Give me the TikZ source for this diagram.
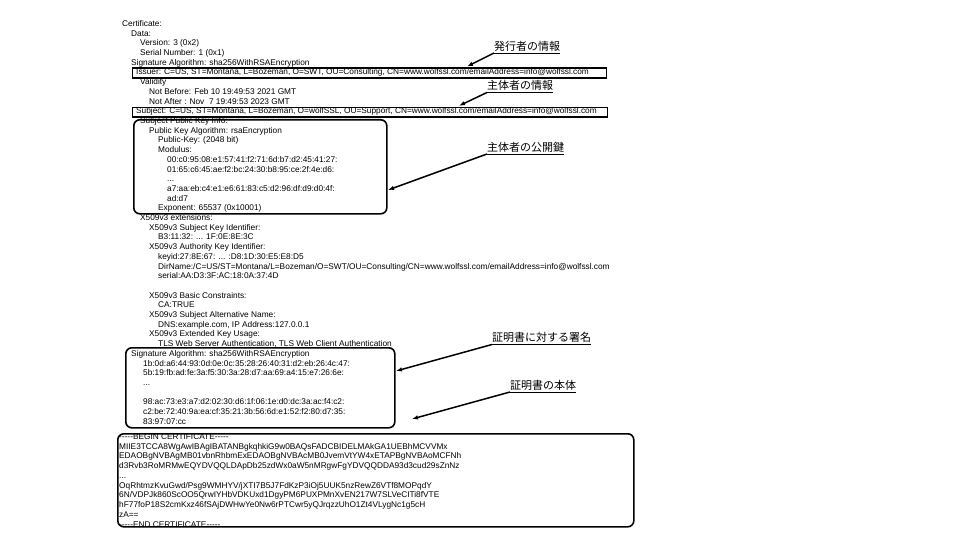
\documentclass[tikz,border=0pt]{standalone}
\usepackage{fontspec}
\setmainfont[Ligatures=TeXOff]{Liberation Sans}
\newfontfamily\jpfont{Noto Sans CJK JP}
\usetikzlibrary{arrows.meta}
\tikzset{
  txt/.style={anchor=base west, inner sep=0pt, font=\fontsize{8.3}{9.7}\selectfont},
  sqbox/.style={draw, line width=1.4pt, rectangle, anchor=north west, inner sep=0pt},
  rbox/.style={draw, line width=1.6pt, rectangle, rounded corners=6pt, anchor=north west, inner sep=0pt},
  note/.style={anchor=south west, inner xsep=0pt, inner ysep=1.7pt, font=\jpfont\fontsize{11}{12}\selectfont},
  uline/.style={line width=0.8pt},
  arr/.style={line width=1.5pt, -{Latex[length=6pt,width=4.5pt]}}
}
\newcommand\certline[4]{\node[txt] (#1) at (#2,{26.5+9.7*#3}) {#4};}
\newcommand\pemline[3]{\node[txt] (#1) at (119,{439.3+9.75*#2}) {#3};}
\begin{document}
\begin{tikzpicture}[x=1pt,y=-1pt]
\useasboundingbox (0,0) rectangle (960,540);
% certificate text
\certline{l0}{122}{0}{Certificate:}
\certline{l1}{131}{1}{Data:}
\certline{l2}{140}{2}{Version: 3 (0x2)}
\certline{l3}{140}{3}{Serial Number: 1 (0x1)}
\certline{l4}{131}{4}{Signature Algorithm: sha256WithRSAEncryption}
\certline{l5}{136}{5}{Issuer: C=US, ST=Montana, L=Bozeman, O=SWT, OU=Consulting, CN=www.wolfssl.com/emailAddress=info@wolfssl.com}
\certline{l6}{140}{6}{Validity}
\certline{l7}{149}{7}{Not Before: Feb 10 19:49:53 2021 GMT}
\certline{l8}{149}{8}{Not After : Nov\ \ 7 19:49:53 2023 GMT}
\certline{l9}{136}{9}{Subject: C=US, ST=Montana, L=Bozeman, O=wolfSSL, OU=Support, CN=www.wolfssl.com/emailAddress=info@wolfssl.com}
\certline{l10}{140}{10}{Subject Public Key Info:}
\certline{l11}{149}{11}{Public Key Algorithm: rsaEncryption}
\certline{l12}{158}{12}{Public-Key: (2048 bit)}
\certline{l13}{158}{13}{Modulus:}
\certline{l14}{167}{14}{00:c0:95:08:e1:57:41:f2:71:6d:b7:d2:45:41:27:}
\certline{l15}{167}{15}{01:65:c6:45:ae:f2:bc:24:30:b8:95:ce:2f:4e:d6:}
\certline{l16}{167}{16}{...}
\certline{l17}{167}{17}{a7:aa:eb:c4:e1:e6:61:83:c5:d2:96:df:d9:d0:4f:}
\certline{l18}{167}{18}{ad:d7}
\certline{l19}{158}{19}{Exponent: 65537 (0x10001)}
\certline{l20}{140}{20}{X509v3 extensions:}
\certline{l21}{149}{21}{X509v3 Subject Key Identifier:}
\certline{l22}{158}{22}{B3:11:32: ... 1F:0E:8E:3C}
\certline{l23}{149}{23}{X509v3 Authority Key Identifier:}
\certline{l24}{158}{24}{keyid:27:8E:67: ... :D8:1D:30:E5:E8:D5}
\certline{l25}{158}{25}{DirName:/C=US/ST=Montana/L=Bozeman/O=SWT/OU=Consulting/CN=www.wolfssl.com/emailAddress=info@wolfssl.com}
\certline{l26}{158}{26}{serial:AA:D3:3F:AC:18:0A:37:4D}
\certline{l28}{149}{28}{X509v3 Basic Constraints:}
\certline{l29}{158}{29}{CA:TRUE}
\certline{l30}{149}{30}{X509v3 Subject Alternative Name:}
\certline{l31}{158}{31}{DNS:example.com, IP Address:127.0.0.1}
\certline{l32}{149}{32}{X509v3 Extended Key Usage:}
\certline{l33}{158}{33}{TLS Web Server Authentication, TLS Web Client Authentication}
\certline{l34}{131}{34}{Signature Algorithm: sha256WithRSAEncryption}
\certline{l35}{143}{35}{1b:0d:a6:44:93:0d:0e:0c:35:28:26:40:31:d2:eb:26:4c:47:}
\certline{l36}{143}{36}{5b:19:fb:ad:fe:3a:f5:30:3a:28:d7:aa:69:a4:15:e7:26:6e:}
\certline{l37}{143}{37}{...}
\certline{l39}{143}{39}{98:ac:73:e3:a7:d2:02:30:d6:1f:06:1e:d0:dc:3a:ac:f4:c2:}
\certline{l40}{143}{40}{c2:be:72:40:9a:ea:cf:35:21:3b:56:6d:e1:52:f2:80:d7:35:}
\certline{l41}{143}{41}{83:97:07:cc}
% PEM text
\pemline{p0}{0}{-----BEGIN CERTIFICATE-----}
\pemline{p1}{1}{MIIE3TCCA8WgAwIBAgIBATANBgkqhkiG9w0BAQsFADCBIDELMAkGA1UEBhMCVVMx}
\pemline{p2}{2}{EDAOBgNVBAgMB01vbnRhbmExEDAOBgNVBAcMB0JvemVtYW4xETAPBgNVBAoMCFNh}
\pemline{p3}{3}{d3Rvb3RoMRMwEQYDVQQLDApDb25zdWx0aW5nMRgwFgYDVQQDDA93d3cud29sZnNz}
\pemline{p4}{4}{...}
\pemline{p5}{5}{OqRhtmzKvuGwd/Psg9WMHYV/jXTI7B5J7FdKzP3iOj5UUK5nzRewZ6VTf8MOPqdY}
\pemline{p6}{6}{6N/VDPJk860ScOO5QrwIYHbVDKUxd1DgyPM6PUXPMnXvEN217W7SLVeCITi8fVTE}
\pemline{p7}{7}{hF77foP18S2cmKxz46fSAjDWHwYe0Nw6rPTCwr5yQJrqzzUhO1Zt4VLygNc1g5cH}
\pemline{p8}{8}{zA==}
\pemline{p9}{9}{-----END CERTIFICATE-----}
% boxes
\node[sqbox, minimum width=474pt, minimum height=9.8pt] (issuerbox) at (132,67.4) {};
\node[sqbox, minimum width=475pt, minimum height=9.8pt] (subjectbox) at (132,106.6) {};
\node[rbox, minimum width=253pt, minimum height=94pt] (pubkeybox) at (133,119) {};
\node[rbox, minimum width=269pt, minimum height=80pt] (sigbox) at (125,347) {};
\node[rbox, minimum width=516pt, minimum height=93pt] (bodybox) at (117,433) {};
% annotations
\node[note] (n1) at (494,53) {発行者の情報};
\node[note] (n2) at (487,92.5) {主体者の情報};
\node[note] (n3) at (487,154) {主体者の公開鍵};
\node[note] (n4) at (492,344.5) {証明書に対する署名};
\node[note] (n5) at (510,392) {証明書の本体};
\foreach \n in {n1,n2,n3,n4,n5}{\draw[uline] (\n.south west) -- (\n.south east);}
% arrow ends
\coordinate (t1) at (467,66.5);
\coordinate (t2) at (459,105.8);
\coordinate (t3) at (388,190);
\coordinate (t4) at (396,371);
\coordinate (t5) at (412,419);
\draw[arr] (n1.south west) -- (t1);
\draw[arr] (n2.south west) -- (t2);
\draw[arr] (n3.south west) -- (t3);
\draw[arr] (n4.south west) -- (t4);
\draw[arr] (n5.south west) -- (t5);
\end{tikzpicture}
\end{document}
